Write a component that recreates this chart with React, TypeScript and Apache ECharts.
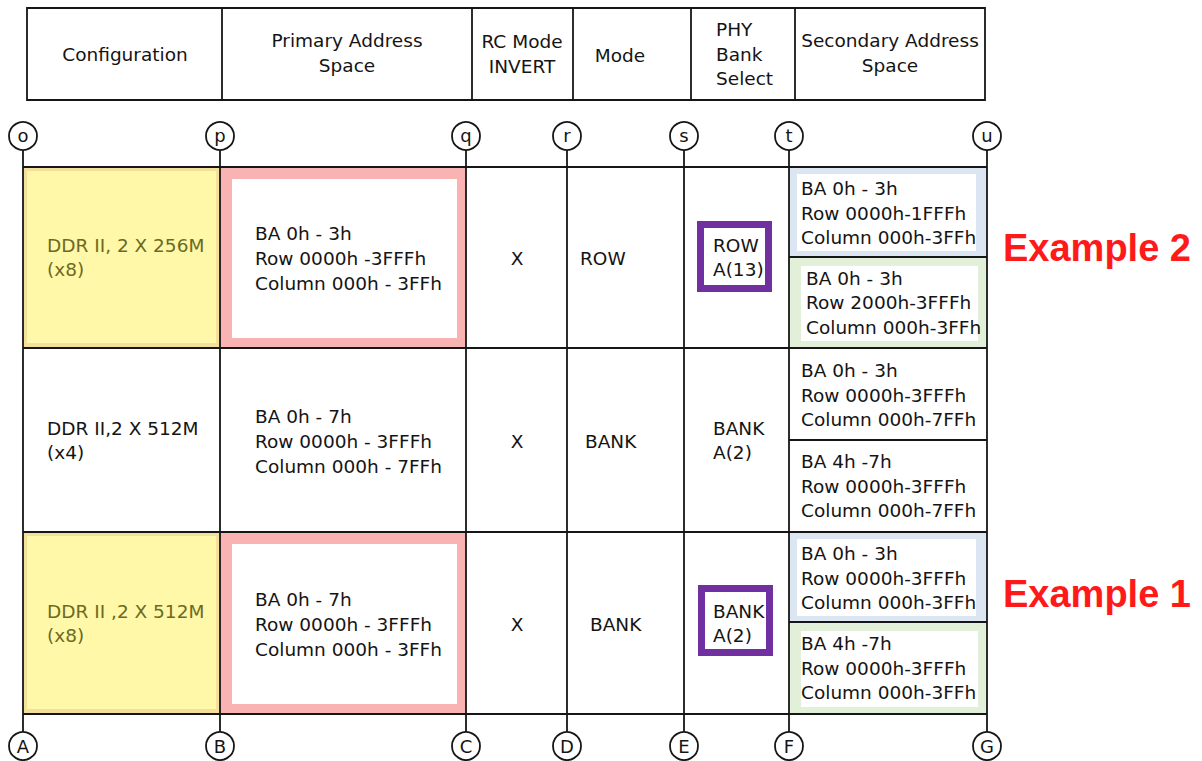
import React, { useEffect, useRef } from "react";
import * as echarts from "echarts";

// ---- data ----
const headers: string[][] = [
  ["Configuration"],
  ["Primary Address", "Space"],
  ["RC Mode", "INVERT"],
  ["Mode"],
  ["PHY", "Bank", "Select"],
  ["Secondary Address", "Space"],
];
const topMarkers = ["o", "p", "q", "r", "s", "t", "u"];
const bottomMarkers = ["A", "B", "C", "D", "E", "F", "G"];
const configurations: string[][] = [
  ["DDR II, 2 X 256M", "(x8)"],
  ["DDR II,2 X 512M", "(x4)"],
  ["DDR II ,2 X 512M", "(x8)"],
];
const primarySpaces: string[][] = [
  ["BA 0h - 3h", "Row 0000h -3FFFh", "Column 000h - 3FFh"],
  ["BA 0h - 7h", "Row 0000h - 3FFFh", "Column 000h - 7FFh"],
  ["BA 0h - 7h", "Row 0000h - 3FFFh", "Column 000h - 3FFh"],
];
const rcModes = ["X", "X", "X"];
const modes = ["ROW", "BANK", "BANK"];
const bankSelects: string[][] = [
  ["ROW", "A(13)"],
  ["BANK", "A(2)"],
  ["BANK", "A(2)"],
];
const secondaryUpper: string[][] = [
  ["BA 0h - 3h", "Row 0000h-1FFFh", "Column 000h-3FFh"],
  ["BA 0h - 3h", "Row 0000h-3FFFh", "Column 000h-7FFh"],
  ["BA 0h - 3h", "Row 0000h-3FFFh", "Column 000h-3FFh"],
];
const secondaryLower: string[][] = [
  ["BA 0h - 3h", "Row 2000h-3FFFh", "Column 000h-3FFh"],
  ["BA 4h -7h", "Row 0000h-3FFFh", "Column 000h-7FFh"],
  ["BA 4h -7h", "Row 0000h-3FFFh", "Column 000h-3FFh"],
];
const highlighted = [true, false, true];
const examples = ["Example 2", "", "Example 1"];

// ---- layout ----
const FONT = "DejaVu Sans";
const FS = 18.5;
const headerX = [27, 222, 472, 573, 691, 795, 985];
const headerY = [8, 100];
const headerTextX = [125, 347, 522, 620, 716, 890];
const headerAlign = ["center", "center", "center", "center", "left", "center"];
const markerX = [23, 220, 466, 567, 684, 789, 987];
const topCircleY = 136;
const bottomCircleY = 746;
const R = 14;
const rowY = [167, 348, 532, 714];
const modeX = [580, 585, 590];

function txt(text: string, x: number, y: number, opts: any = {}) {
  const align = opts.align || "left";
  return {
    type: "text",
    x,
    y,
    z: opts.z || 10,
    silent: true,
    style: {
      text,
      fill: opts.fill || "#141414",
      fontSize: opts.fontSize || FS,
      fontFamily: opts.fontFamily || FONT,
      fontWeight: opts.fontWeight || "normal",
      align,
      textAlign: align,
      verticalAlign: "middle",
      textVerticalAlign: "middle",
    },
  };
}

function lines(arr: string[], x: number, cy: number, lh: number, opts: any = {}) {
  const n = arr.length;
  return arr.map((s, i) => txt(s, x, cy + (i - (n - 1) / 2) * lh, opts));
}

function rect(x: number, y: number, w: number, h: number, style: any, z = 1) {
  return { type: "rect", z, silent: true, shape: { x, y, width: w, height: h }, style };
}

function line(x1: number, y1: number, x2: number, y2: number, lw = 1.8, z = 5) {
  return {
    type: "line",
    z,
    silent: true,
    shape: { x1, y1, x2, y2 },
    style: { stroke: "#161616", lineWidth: lw },
  };
}

function buildElements() {
  const els: any[] = [];
  // header box
  els.push(rect(headerX[0], headerY[0], headerX[6] - headerX[0], headerY[1] - headerY[0], { fill: "none", stroke: "#161616", lineWidth: 1.8 }, 5));
  for (let i = 1; i < headerX.length - 1; i++) els.push(line(headerX[i], headerY[0], headerX[i], headerY[1]));
  headers.forEach((h, i) => {
    const cy = (headerY[0] + headerY[1]) / 2 + (i === 2 ? 1 : 0);
    els.push(...lines(h, headerTextX[i], i === 3 ? cy + 1 : cy - (h.length === 2 ? 1 : 0), h.length === 3 ? 24.5 : 25.5, { align: headerAlign[i] }));
  });

  // row fills
  for (let r = 0; r < 3; r++) {
    const y0 = rowY[r];
    const y1 = rowY[r + 1];
    const mid = r === 0 ? 257 : r === 1 ? 440 : 622;
    if (highlighted[r]) {
      // yellow configuration
      els.push(rect(markerX[0], y0, markerX[1] - markerX[0], y1 - y0, { fill: "#f4e09a" }, 1));
      els.push(rect(markerX[0] + 4, y0 + 4, markerX[1] - markerX[0] - 8, y1 - y0 - 9, { fill: "#fff8a8" }, 2));
      // pink primary
      els.push(rect(markerX[1], y0, markerX[2] - markerX[1], y1 - y0, { fill: "#f9b3b3" }, 1));
      els.push(rect(markerX[1] + 12, y0 + 12, markerX[2] - markerX[1] - 21, y1 - y0 - 22, { fill: "#ffffff" }, 2));
      // blue / green secondary
      els.push(rect(markerX[5], y0, markerX[6] - markerX[5], mid - y0, { fill: "#dce6f2" }, 1));
      els.push(rect(markerX[5] + 8, y0 + 7, markerX[6] - markerX[5] - 19, mid - y0 - 13, { fill: "#ffffff" }, 2));
      els.push(rect(markerX[5], mid, markerX[6] - markerX[5], y1 - mid, { fill: "#e2f0d9" }, 1));
      els.push(rect(markerX[5] + 12, mid + 9, markerX[6] - markerX[5] - 21, y1 - mid - 16, { fill: "#ffffff" }, 2));
      // purple bank select box
      const by = r === 0 ? 221 : 585;
      const bx = r === 0 ? 697 : 698;
      els.push(rect(bx + 3.5, by + 3.5, 68, 64, { fill: "none", stroke: "#7030a0", lineWidth: 7 }, 6));
    }
    // split line in secondary column
    els.push(line(markerX[5], mid, markerX[6], mid));

    const cy = (y0 + y1) / 2 + 1;
    const textFill = highlighted[r] ? "#6d6a1f" : "#141414";
    els.push(...lines(configurations[r], 47, cy - 1, 24, { fill: textFill }));
    els.push(...lines(primarySpaces[r], 255, cy, 25));
    els.push(txt(rcModes[r], 517, cy, { align: "center" }));
    els.push(txt(modes[r], modeX[r], cy));
    els.push(...lines(bankSelects[r], 713, cy - 1, 24));
    els.push(...lines(secondaryUpper[r], 801, (y0 + mid) / 2 + 1, 24.5));
    els.push(...lines(secondaryLower[r], r === 0 ? 806 : 801, (mid + y1) / 2, 24.5));
    if (examples[r]) {
      els.push(txt(examples[r], 1003, cy - (r === 0 ? 11 : 30), {
        fill: "#ff1a1a",
        fontSize: 38,
        fontWeight: "bold",
        fontFamily: "Liberation Sans",
      }));
    }
  }

  // horizontal table lines
  rowY.forEach((y) => els.push(line(markerX[0], y, markerX[6], y)));
  // vertical marker lines
  markerX.forEach((x) => els.push(line(x, topCircleY + R, x, bottomCircleY - R)));
  // circles + letters
  markerX.forEach((x, i) => {
    els.push({ type: "circle", z: 7, silent: true, shape: { cx: x, cy: topCircleY, r: R }, style: { fill: "#ffffff", stroke: "#161616", lineWidth: 1.8 } });
    els.push(txt(topMarkers[i], x, topCircleY - 1, { align: "center", fontSize: 18, z: 8 }));
    els.push({ type: "circle", z: 7, silent: true, shape: { cx: x, cy: bottomCircleY, r: R }, style: { fill: "#ffffff", stroke: "#161616", lineWidth: 1.8 } });
    els.push(txt(bottomMarkers[i], x, bottomCircleY, { align: "center", fontSize: 18, z: 8 }));
  });
  return els;
}

export default function App() {
  const ref = useRef<HTMLDivElement>(null);
  useEffect(() => {
    document.body.style.margin = "0";
    if (!ref.current) return;
    const chart = echarts.init(ref.current, null, { renderer: "svg" });
    chart.setOption({
      animation: false,
      backgroundColor: "#ffffff",
      graphic: { elements: buildElements() },
    });
    return () => chart.dispose();
  }, []);
  return <div ref={ref} style={{ width: 1202, height: 761 }} />;
}
